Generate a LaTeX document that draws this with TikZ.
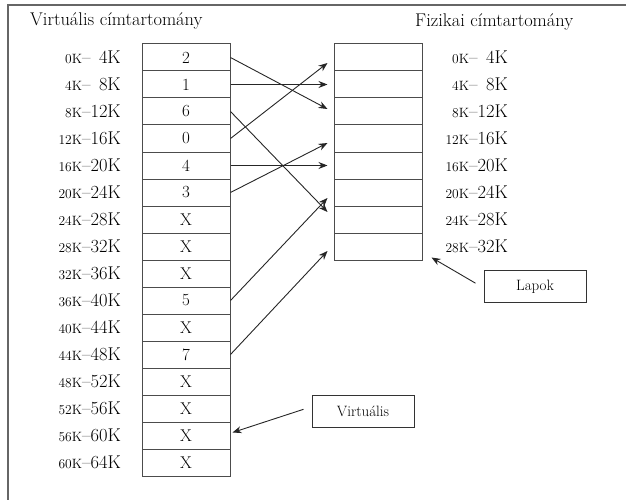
\documentclass[tikz,border=0pt]{standalone}
\usepackage{fontspec}
\usetikzlibrary{arrows.meta,calc}

% address label: small start, dash, large end
\newcommand\addr[2]{{\fontsize{13.5}{13.5}\selectfont #1}--#2}

\tikzset{
  frameline/.style={draw=black!60, line width=2pt},
  cell/.style={draw=black!70, line width=1pt, minimum width=88pt, minimum height=27pt,
    inner sep=0pt, font=\fontsize{17}{17}\selectfont},
  addrlabel/.style={anchor=east, inner sep=0pt, font=\fontsize{18.5}{18.5}\selectfont},
  title/.style={anchor=base west, inner sep=0pt, font=\fontsize{18.4}{20}\selectfont},
  callout/.style={draw=black!80, line width=1pt, minimum width=102pt, minimum height=32pt,
    inner sep=0pt, font=\fontsize{15}{15}\selectfont},
  map/.style={draw=black!85, line width=0.9pt, -{Stealth[length=9pt,width=7pt]}},
}

\begin{document}
\begin{tikzpicture}[x=1pt,y=-1pt]
\useasboundingbox (0,0) rectangle (626,500);

% outer frame (top and left edges)
\draw[frameline] (626,5) -- (8,5) -- (8,500);

% headings
\node[title] (vt) at (30,26) {Virtuális címtartomány};
\node[title] (pt) at (415,26.5) {Fizikai címtartomány};

% virtual address space: 16 pages of 4K
\foreach \i/\v/\a/\b in {0/2/0K/\phantom{1}4K, 1/1/4K/\phantom{1}8K, 2/6/8K/12K, 3/0/12K/16K,
    4/4/16K/20K, 5/3/20K/24K, 6/X/24K/28K, 7/X/28K/32K,
    8/X/32K/36K, 9/5/36K/40K, 10/X/40K/44K, 11/7/44K/48K,
    12/X/48K/52K, 13/X/52K/56K, 14/X/56K/60K, 15/X/60K/64K} {
  \node[cell] (v\i) at (186,{44+27*(\i+0.5)}) {\v};
  \node[addrlabel] (vl\i) at (121,{44+27*(\i+0.5)}) {\addr{\a}{\b}};
}

% physical address space: 8 page frames
\foreach \j/\a/\b in {0/0K/\phantom{1}4K, 1/4K/\phantom{1}8K, 2/8K/12K, 3/12K/16K,
    4/16K/20K, 5/20K/24K, 6/24K/28K, 7/28K/32K} {
  \node[cell] (p\j) at (378,{44+27*(\j+0.5)}) {};
  \node[addrlabel] (pl\j) at (508,{44+27*(\j+0.5)}) {\addr{\a}{\b}};
}

% page -> frame mapping
\draw[map] (v0.east) -- ($(p2.west)+(-6,-2.5)$);
\draw[map] (v1.east) -- ($(p1.west)+(-6,0)$);
\draw[map] (v2.east) -- ($(p6.west)+(-6,-7.5)$);
\draw[map] (v3.east) -- ($(p0.west)+(-6,5.5)$);
\draw[map] (v4.east) -- ($(p4.west)+(-6,0)$);
\draw[map] (v5.east) -- ($(p3.west)+(-6,4.5)$);
\draw[map] (v9.east) -- ($(p5.west)+(-6,5.5)$);
\draw[map] (v11.east) -- ($(p7.west)+(-6,4.5)$);

% callouts
\node[callout] (lapok) at (535,286.7) {Lapok};
\node[callout] (virt) at (363,411.3) {Virtuális};
\draw[map] ($(lapok.west)+(-8,-3.5)$) -- ($(p7.south east)+(9,-3)$);
\draw[map] ($(virt.west)+(-8,-2)$) -- ($(v14.east)+(2,-3)$);
\end{tikzpicture}
\end{document}
